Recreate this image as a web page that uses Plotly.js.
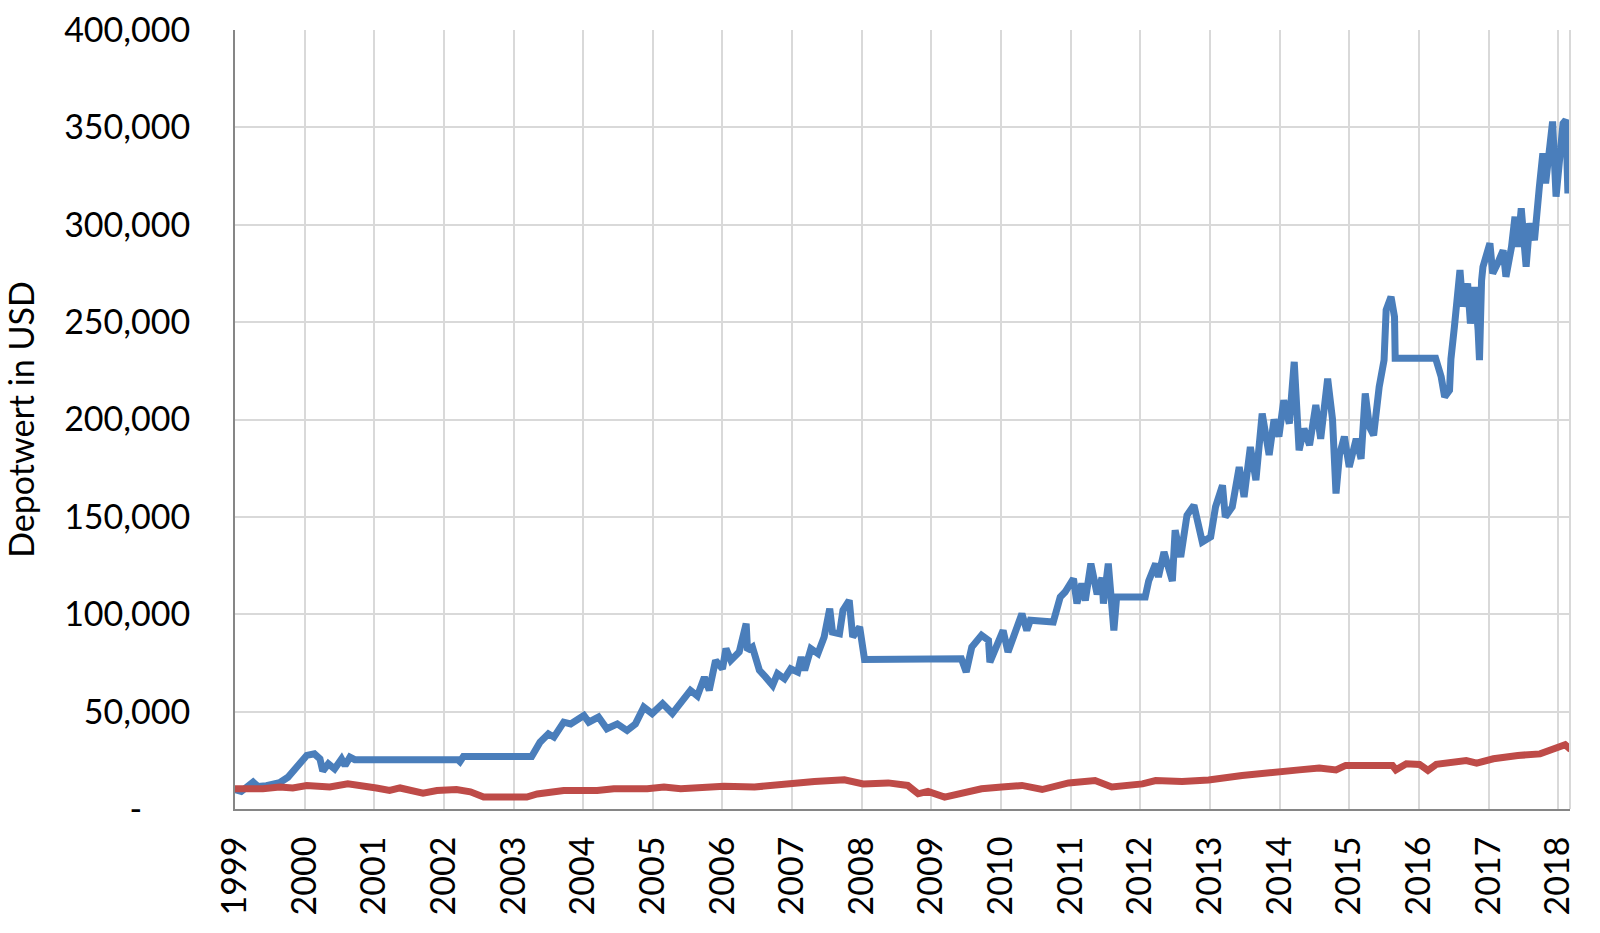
<!DOCTYPE html>
<html>
<head>
<meta charset="utf-8">
<script src="https://cdn.plot.ly/plotly-3.0.1.min.js"></script>
<style>
  html, body { margin: 0; padding: 0; background: #ffffff; }
  #chart { width: 1600px; height: 933px; }
</style>
</head>
<body>
<div id="chart"></div>
<script>
// Depot value (blue) – time in decimal years
const depotYears = [
  1999.00, 1999.09, 1999.26, 1999.33, 1999.45, 1999.64, 1999.76, 1999.93,
  2000.03, 2000.14, 2000.22, 2000.26, 2000.34, 2000.43, 2000.53, 2000.58, 2000.65, 2000.72,
  2002.20, 2002.23, 2002.28, 2003.26,
  2003.38, 2003.50, 2003.58, 2003.72, 2003.82, 2004.01, 2004.08, 2004.22, 2004.34, 2004.49,
  2004.63, 2004.75, 2004.87, 2004.99, 2005.14, 2005.28, 2005.40, 2005.54, 2005.64, 2005.74,
  2005.81, 2005.90, 2006.00, 2006.05, 2006.12, 2006.24, 2006.34, 2006.36, 2006.43, 2006.53,
  2006.62, 2006.72, 2006.79, 2006.89, 2006.98, 2007.08, 2007.13, 2007.18, 2007.27, 2007.37,
  2007.46, 2007.54, 2007.58, 2007.68, 2007.73, 2007.82, 2007.87, 2007.97, 2008.04,
  2009.43, 2009.50, 2009.58, 2009.72, 2009.82, 2009.84, 2009.94, 2010.03, 2010.10, 2010.20,
  2010.30, 2010.37, 2010.42, 2010.75,
  2010.85, 2010.92, 2011.04, 2011.09, 2011.16, 2011.21, 2011.29, 2011.38, 2011.45, 2011.47,
  2011.54, 2011.62, 2011.66, 2012.07,
  2012.12, 2012.22, 2012.26, 2012.34, 2012.46, 2012.50, 2012.58, 2012.67, 2012.77, 2012.89,
  2013.01, 2013.08, 2013.18, 2013.22, 2013.32, 2013.42, 2013.49, 2013.58, 2013.66, 2013.75,
  2013.85, 2013.92, 2013.99, 2014.06, 2014.14, 2014.21, 2014.28, 2014.35, 2014.43, 2014.52,
  2014.59, 2014.69, 2014.76, 2014.81, 2014.86, 2014.93, 2015.00, 2015.10, 2015.17, 2015.23,
  2015.29, 2015.35, 2015.43, 2015.50, 2015.53, 2015.60, 2015.65, 2015.66,
  2016.24, 2016.32, 2016.37, 2016.44, 2016.46, 2016.51, 2016.56, 2016.59, 2016.63, 2016.70,
  2016.74, 2016.80, 2016.85, 2016.87, 2016.90, 2016.92, 2017.02, 2017.06, 2017.13, 2017.21,
  2017.25, 2017.33, 2017.38, 2017.42, 2017.47, 2017.54, 2017.59, 2017.66, 2017.73, 2017.78,
  2017.82, 2017.87, 2017.92, 2017.97, 2018.02, 2018.07, 2018.11, 2018.14, 2018.16, 2018.18
];
const depotValues = [
  10000, 9000, 13800, 11500, 12000, 13500, 16300, 23200,
  27500, 28300, 25700, 19500, 23200, 20600, 25700, 22300, 26600, 25300,
  25300, 24300, 27000, 27000,
  34300, 38600, 36900, 44600, 43700, 48000, 44600, 47200, 41200, 43700,
  40300, 43700, 52300, 49000, 54100, 49000, 54000, 60900, 58000, 67700,
  60900, 76300, 72000, 82300, 76300, 80600, 95200, 81500, 83200, 71200,
  67700, 63500, 69500, 66900, 72000, 70300, 78000, 71200, 82300, 79800,
  88300, 102900, 90800, 90000, 102000, 107100, 88300, 93400, 76800,
  77200, 70300, 83200, 89200, 86600, 75400, 84000, 91700, 80600, 91700,
  100300, 91700, 96900, 96000,
  108800, 111400, 118300, 105500, 115800, 107100, 126000, 110300, 118800, 105500,
  126000, 91700, 108800, 108800,
  117100, 126000, 119100, 132000, 117100, 143100, 129400, 150800, 156000, 137100,
  139700, 155100, 166200, 150000, 155100, 175600, 160200, 185900, 168800, 203100,
  181800, 200000, 191200, 209900, 197900, 229600, 184200, 195300, 186800, 207400,
  190100, 221000, 200000, 162000, 181800, 191200, 175600, 190100, 179800, 213400,
  196200, 191900, 216800, 230500, 256200, 263000, 252700, 231400,
  231400, 221900, 211600, 215000, 231000, 247600, 264800, 276700, 258000, 269800,
  249300, 268000, 246000, 230500, 271300, 278400, 290500, 275000, 280100, 286900,
  273300, 288600, 304100, 288600, 308400, 278400, 300700, 292100, 319500, 336700,
  321300, 336700, 353000, 314400, 329900, 352100, 353800, 316100, 345200, 324700
];

// Benchmark (red)
const benchYears = [
  1999.00, 1999.21, 1999.40, 1999.64, 1999.83, 2000.03, 2000.22, 2000.36, 2000.62, 2000.84,
  2001.03, 2001.22, 2001.37, 2001.70, 2001.90, 2002.18, 2002.38, 2002.57, 2002.76, 2003.00,
  2003.19, 2003.34, 2003.72, 2004.20, 2004.44, 2004.92, 2005.16, 2005.40, 2006.02, 2006.46,
  2006.84, 2007.32, 2007.75, 2008.02, 2008.38, 2008.66, 2008.81, 2008.95, 2009.19, 2009.48,
  2009.72, 2010.01, 2010.30, 2010.59, 2010.97, 2011.35, 2011.59, 2012.03, 2012.22, 2012.60,
  2012.98, 2013.46, 2013.94, 2014.28, 2014.57, 2014.81, 2014.95, 2015.62, 2015.67, 2015.82,
  2016.01, 2016.13, 2016.25, 2016.68, 2016.83, 2017.07, 2017.42, 2017.74, 2018.10, 2018.18
];
const benchValues = [
  10400, 10000, 10400, 11300, 10800, 12100, 12100, 11300, 12900, 11300,
  10800, 9500, 10800, 8100, 9500, 10000, 8800, 6100, 6100, 6500,
  6100, 7700, 9500, 9500, 10400, 10400, 11300, 10400, 11700, 11300,
  12900, 14100, 15000, 12900, 13400, 12100, 7800, 9000, 6100, 8800,
  10400, 11300, 12100, 10000, 13400, 14600, 11300, 12900, 14600, 14100,
  14900, 17200, 19400, 20100, 21000, 20100, 22400, 22400, 20100, 23200,
  22900, 19800, 22900, 24900, 23600, 25800, 27500, 28300, 33000, 30500
];

const yTickVals = [0, 50000, 100000, 150000, 200000, 250000, 300000, 350000, 400000];
const yTickText = ['-\u2007\u2007\u00A0', '50,000', '100,000', '150,000', '200,000', '250,000', '300,000', '350,000', '400,000'];
const xTickVals = [1999,2000,2001,2002,2003,2004,2005,2006,2007,2008,2009,2010,2011,2012,2013,2014,2015,2016,2017,2018];
const xTickText = xTickVals.map(String);

const FONT = 'Lato, "Open Sans", sans-serif';

const traces = [
  {
    x: depotYears, y: depotValues, type: 'scatter', mode: 'lines',
    line: { color: '#4a7ebb', width: 7, shape: 'linear' },
    name: 'Depot', hoverinfo: 'x+y'
  },
  {
    x: benchYears, y: benchValues, type: 'scatter', mode: 'lines',
    line: { color: '#be4b48', width: 7, shape: 'linear' },
    name: 'Benchmark', hoverinfo: 'x+y'
  }
];

const layout = {
  width: 1600, height: 933,
  margin: { l: 235, r: 30, t: 30, b: 124, pad: 0 },
  paper_bgcolor: '#ffffff', plot_bgcolor: '#ffffff',
  showlegend: false,
  font: { family: FONT, color: '#000000', size: 34 },
  xaxis: {
    type: 'linear',
    range: [1999, 2018.17],
    tickmode: 'array', tickvals: xTickVals, ticktext: xTickText,
    tickangle: -90,
    tickfont: { family: FONT, size: 34, color: '#000000' },
    ticks: 'outside', ticklen: 12, tickcolor: 'rgba(0,0,0,0)',
    showgrid: true, gridcolor: '#d9d9d9', gridwidth: 2,
    showline: true, linecolor: '#868686', linewidth: 2,
    zeroline: false, automargin: false, fixedrange: true
  },
  yaxis: {
    range: [0, 400000],
    tickmode: 'array', tickvals: yTickVals, ticktext: yTickText,
    tickfont: { family: FONT, size: 34, color: '#000000' },
    ticks: 'outside', ticklen: 36, tickcolor: 'rgba(0,0,0,0)',
    showgrid: true, gridcolor: '#d9d9d9', gridwidth: 2,
    showline: true, linecolor: '#868686', linewidth: 2,
    zeroline: false, automargin: false, fixedrange: true,
    title: { text: 'Depotwert in USD', font: { family: FONT, size: 34, color: '#000000' }, standoff: 20 }
  },
  shapes: [
    { type: 'line', xref: 'paper', yref: 'paper', x0: 1, x1: 1, y0: 0, y1: 1,
      line: { color: '#d9d9d9', width: 2 } }
  ]
};

Plotly.newPlot('chart', traces, layout, { displayModeBar: false, staticPlot: true });
</script>
</body>
</html>
